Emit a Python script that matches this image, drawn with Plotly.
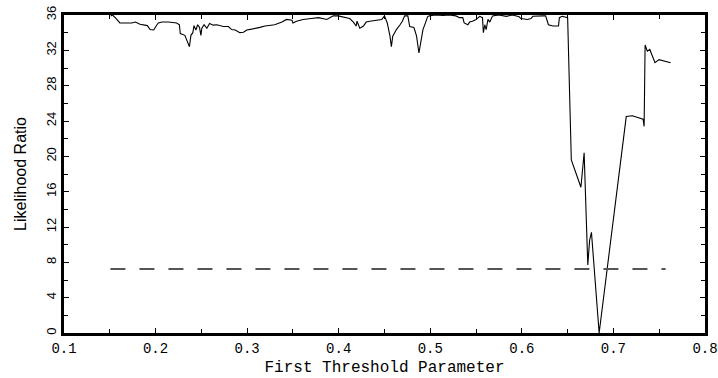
import plotly.graph_objects as go

# First threshold parameter values (x) and likelihood ratio (y)
threshold_param = [
    0.151, 0.153, 0.157, 0.161, 0.163, 0.174, 0.178, 0.183, 0.191, 0.194,
    0.198, 0.199, 0.2015, 0.203, 0.207, 0.214, 0.223, 0.226, 0.227, 0.232,
    0.234, 0.237, 0.2386, 0.2407, 0.242, 0.244, 0.246, 0.248, 0.2495, 0.2505,
    0.253, 0.256, 0.259, 0.263, 0.267, 0.274, 0.2795, 0.283, 0.287, 0.292,
    0.296, 0.2996, 0.305, 0.3105, 0.314, 0.3195, 0.325, 0.330, 0.338, 0.343,
    0.349, 0.350, 0.354, 0.361, 0.370, 0.378, 0.387, 0.390, 0.394, 0.3993,
    0.403, 0.4085, 0.412, 0.416, 0.419, 0.420, 0.423, 0.427, 0.430, 0.434,
    0.441, 0.447, 0.450, 0.453, 0.456, 0.4575, 0.459, 0.463, 0.467, 0.4695,
    0.472, 0.4755, 0.4775, 0.482, 0.483, 0.485, 0.4876, 0.489, 0.492, 0.495,
    0.497, 0.499, 0.505, 0.514, 0.521, 0.528, 0.532, 0.5355, 0.537, 0.541,
    0.543, 0.546, 0.550, 0.554, 0.557, 0.558, 0.5595, 0.561, 0.563, 0.565,
    0.568, 0.575, 0.583, 0.590, 0.597, 0.599, 0.606, 0.610, 0.612, 0.623,
    0.626, 0.629, 0.634, 0.640, 0.641, 0.644, 0.648, 0.650, 0.654, 0.6645,
    0.668, 0.6705, 0.672, 0.674, 0.676, 0.6844, 0.714, 0.7207, 0.7324, 0.7335,
    0.7346, 0.737, 0.7397, 0.7454, 0.7498, 0.7625,
]
likelihood_ratio = [
    35.9, 36.0, 35.6, 35.1, 35.1, 35.1, 35.2, 34.95, 34.8, 34.35,
    34.3, 34.5, 34.9, 35.1, 35.2, 35.2, 35.1, 34.9, 33.9, 33.7,
    33.2, 32.4, 33.7, 34.0, 34.8, 34.3, 34.9, 34.6, 33.7, 34.5,
    34.9, 34.5, 35.05, 34.85, 34.9, 34.7, 34.7, 34.35, 34.3, 34.0,
    34.05, 34.3, 34.4, 34.5, 34.6, 34.75, 34.8, 34.9, 35.2, 35.5,
    35.4, 35.1, 35.3, 35.5, 35.6, 35.7, 35.5, 35.7, 35.9, 35.9,
    35.8, 35.7, 35.6, 35.2, 34.75, 35.3, 34.5, 34.75, 35.2, 35.3,
    35.4, 35.5, 35.9, 35.1, 33.6, 32.4, 33.6, 34.35, 34.9, 35.3,
    35.9, 35.9, 34.7, 34.6, 34.3, 33.6, 31.7, 32.5, 34.35, 35.2,
    35.8, 35.9, 36.0, 35.95, 36.0, 35.9, 35.7, 35.7, 35.1, 34.9,
    35.2, 35.3, 35.5, 35.85, 35.7, 34.0, 34.9, 34.35, 35.5, 35.2,
    35.9, 36.0, 35.85, 36.0, 35.8, 35.6, 35.5, 35.6, 35.85, 35.9,
    35.9, 34.9, 34.75, 34.75, 35.7, 35.85, 35.8, 35.7, 19.6, 16.5,
    20.4, 13.0, 7.7, 10.5, 11.4, 0.0, 24.5, 24.6, 24.2, 23.4,
    32.6, 31.9, 32.1, 30.6, 30.95, 30.6,
]

# Critical value (dashed reference line)
critical_x = [0.1507, 0.757]
critical_value = 7.25

x_ticks = [0.1, 0.2, 0.3, 0.4, 0.5, 0.6, 0.7, 0.8]
y_ticks = [0, 4, 8, 12, 16, 20, 24, 28, 32, 36]

fig = go.Figure()
fig.add_trace(go.Scatter(
    x=threshold_param, y=likelihood_ratio, mode="lines",
    line=dict(color="black", width=1.1), showlegend=False, hoverinfo="skip",
))
fig.add_trace(go.Scatter(
    x=critical_x, y=[critical_value] * len(critical_x), mode="lines",
    line=dict(color="#555555", width=2, dash="15px,14px"), showlegend=False,
    hoverinfo="skip",
))

mono = "Liberation Mono, DejaVu Sans Mono, monospace"
narrow = "Liberation Sans Narrow, Liberation Sans, Arial, sans-serif"

fig.update_layout(
    width=718, height=378,
    margin=dict(l=64, r=13, t=15, b=45),
    paper_bgcolor="white", plot_bgcolor="white",
    xaxis=dict(
        range=[0.1, 0.8], tickvals=x_ticks, ticktext=[f"{v:.1f}" for v in x_ticks],
        ticks="inside", ticklen=5, tickwidth=1, tickcolor="black",
        minor=dict(dtick=0.05, tick0=0.1, ticks="inside", ticklen=4, tickcolor="black"),
        showline=True, linewidth=2.5, linecolor="black", mirror="allticks",
        showgrid=False, zeroline=False, automargin=False,
        tickfont=dict(family=mono, size=14, color="black"),
        title=dict(text="First Threshold Parameter",
                   font=dict(family=mono, size=16, color="black"), standoff=6),
    ),
    yaxis=dict(
        range=[0, 36], tickvals=y_ticks, ticktext=[str(v) for v in y_ticks],
        ticks="inside", ticklen=5, tickwidth=1, tickcolor="black", tickangle=-90,
        minor=dict(dtick=2, tick0=0, ticks="inside", ticklen=4, tickcolor="black"),
        showline=True, linewidth=2.5, linecolor="black", mirror="allticks",
        showgrid=False, zeroline=False, automargin=False,
        tickfont=dict(family=narrow, size=13, color="black"),
        title=dict(text="Likelihood Ratio",
                   font=dict(family=narrow, size=16, color="black"), standoff=14),
    ),
)

fig.write_html("out.html")
